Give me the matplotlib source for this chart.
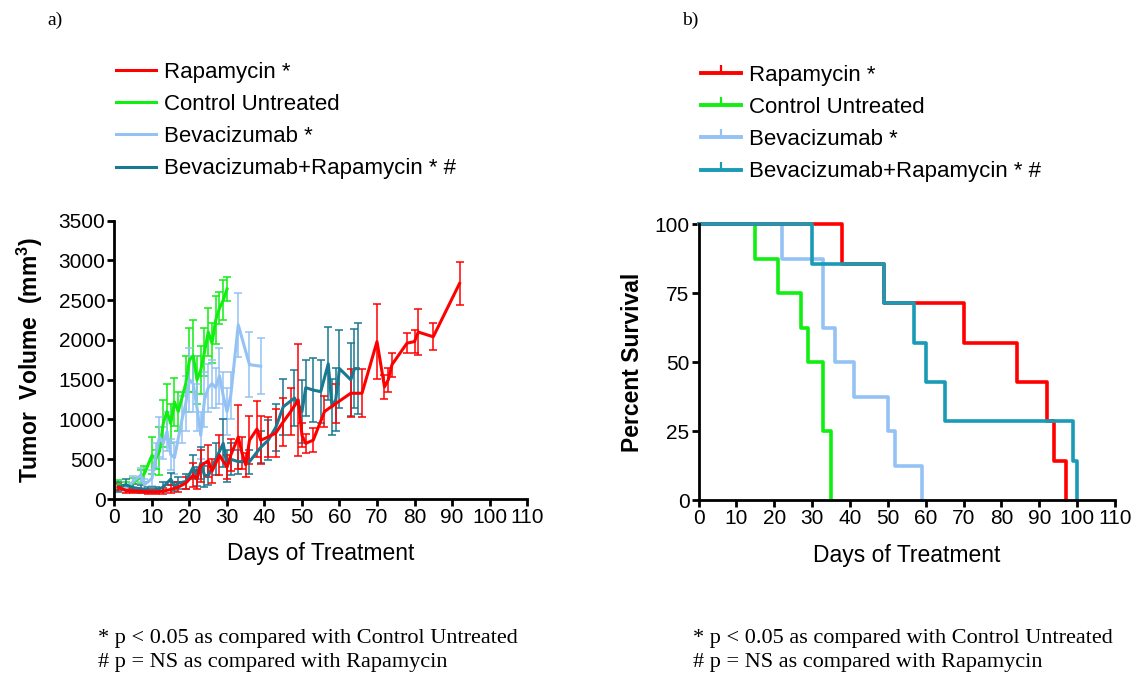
import matplotlib
matplotlib.use("Agg")
import matplotlib.pyplot as plt
from matplotlib.lines import Line2D

plt.rcParams.update({
    "font.family": "Liberation Sans",
    "mathtext.fontset": "custom",
    "mathtext.rm": "Liberation Sans",
    "mathtext.bf": "Liberation Sans:bold",
    "axes.spines.top": False,
    "axes.spines.right": False,
    "axes.linewidth": 2.0,
})

RED = "#ff0000"
GREEN = "#11ee11"
LBLUE = "#94c2f5"
TEAL_A = "#1a7890"
TEAL_B = "#1a9bb5"

# ---- (a) tumor volume: day, mean, error ----
days_rapa = [1, 3, 5, 7, 9, 11, 13, 15, 17, 19, 21, 22, 23, 25, 26, 28, 30, 31, 33, 34, 35, 36, 38,
             39, 41, 43, 45, 47, 49, 50, 51, 53, 56, 59, 63, 66, 70, 72, 73, 74, 78, 80, 81, 85, 92]
vol_rapa = [150, 110, 100, 100, 90, 90, 100, 120, 150, 200, 300, 250, 420, 480, 350, 550, 400, 550, 780,
            580, 430, 740, 880, 740, 780, 830, 970, 1100, 1245, 800, 700, 740, 1100, 1200, 1330, 1330,
            1980, 1410, 1500, 1690, 1960, 1980, 2100, 2040, 2710]
err_rapa = [40, 30, 30, 30, 30, 30, 40, 50, 60, 80, 150, 120, 200, 200, 150, 250, 150, 200, 400, 200,
            150, 300, 350, 300, 250, 300, 300, 300, 700, 150, 120, 150, 200, 250, 300, 300, 470, 150,
            150, 150, 130, 150, 290, 170, 270]

days_ctrl = [1, 3, 5, 7, 8, 10, 11, 12, 13, 14, 15, 16, 17, 19, 20, 21, 22, 23, 24, 25, 26, 27, 28, 29, 30]
vol_ctrl = [180, 160, 200, 280, 320, 550, 500, 600, 950, 1100, 950, 1220, 1100, 1450, 1750, 1800, 1500,
            1620, 1850, 2100, 1960, 2250, 2400, 2500, 2640]
err_ctrl = [60, 50, 60, 80, 100, 230, 120, 300, 300, 350, 250, 300, 250, 350, 400, 450, 300, 300, 300,
            300, 250, 300, 200, 250, 150]

days_bev = [1, 3, 5, 7, 8, 10, 11, 12, 13, 14, 15, 16, 18, 19, 20, 21, 22, 23, 24, 25, 26, 27, 28, 29,
            30, 31, 33, 36, 39]
vol_bev = [150, 130, 220, 300, 180, 260, 550, 780, 700, 850, 560, 520, 1000, 1200, 1500, 1450, 1150, 800,
           1250, 1400, 1450, 1400, 1550, 1300, 1100, 1300, 2190, 1690, 1670]
err_bev = [50, 40, 70, 90, 70, 100, 150, 250, 200, 250, 200, 200, 300, 350, 400, 350, 300, 300, 350,
           300, 300, 250, 350, 300, 300, 300, 400, 410, 350]

days_combo = [1, 3, 5, 7, 9, 11, 13, 15, 16, 17, 19, 21, 22, 23, 24, 25, 27, 29, 30, 31, 33, 36, 39, 41,
              43, 45, 48, 50, 51, 53, 55, 57, 58, 59, 60, 63, 64, 65]
vol_combo = [150, 180, 140, 130, 110, 110, 150, 250, 160, 200, 220, 400, 280, 450, 300, 290, 500, 700,
             420, 500, 470, 470, 650, 740, 900, 1160, 1270, 1100, 1400, 1370, 1350, 1700, 1160, 1250,
             1640, 1500, 1640, 1640]
err_combo = [60, 70, 50, 50, 40, 40, 60, 80, 60, 80, 100, 150, 120, 200, 150, 120, 200, 300, 200, 200,
             150, 150, 200, 250, 300, 350, 350, 400, 350, 400, 400, 460, 350, 400, 490, 460, 500, 570]

# ---- (b) survival steps ----
t_rapa = [0, 38, 49, 70, 84, 92, 94, 97]
s_rapa = [100, 85.7, 71.4, 57.1, 42.9, 28.6, 14.3, 0]
t_ctrl = [0, 15, 21, 27, 29, 33, 35]
s_ctrl = [100, 87.5, 75, 62.5, 50, 25, 0]
t_bev = [0, 22, 33, 36, 41, 50, 52, 59]
s_bev = [100, 87.5, 62.5, 50, 37.5, 25, 12.5, 0]
t_combo = [0, 30, 49, 57, 60, 65, 99, 100]
s_combo = [100, 85.7, 71.4, 57.1, 42.9, 28.6, 14.3, 0]

labels = ["Rapamycin *", "Control Untreated", "Bevacizumab *", "Bevacizumab+Rapamycin * #"]

fig = plt.figure(figsize=(11.38, 6.77), dpi=100)
ax1 = fig.add_axes([0.1006, 0.2629, 0.3625, 0.4111])
ax2 = fig.add_axes([0.6138, 0.2614, 0.3660, 0.4072])

# ── (a) ──
series = [(days_ctrl, vol_ctrl, err_ctrl, GREEN),
          (days_bev, vol_bev, err_bev, LBLUE),
          (days_combo, vol_combo, err_combo, TEAL_A),
          (days_rapa, vol_rapa, err_rapa, RED)]
for d, v, e, c in series:
    ax1.errorbar(d, v, yerr=e, color=c, lw=2.2, elinewidth=1.1, capsize=2.8,
                 capthick=1.1, ecolor=c)

ax1.set_xlim(0, 110)
ax1.set_ylim(0, 3500)
ax1.set_xticks(range(0, 111, 10))
ax1.set_yticks(range(0, 3501, 500))
ax1.set_xlabel("Days of Treatment", fontsize=16.5)
ax1.set_ylabel(r"Tumor  Volume  (mm$^\mathbf{3}$)", fontsize=16.5, fontweight="bold")
ax1.xaxis.set_label_coords(0.5, -0.155)
ax1.yaxis.set_label_coords(-0.169, 0.5)

# ── (b) ──
for t, s, c in [(t_ctrl, s_ctrl, GREEN), (t_bev, s_bev, LBLUE),
                (t_rapa, s_rapa, RED), (t_combo, s_combo, TEAL_B)]:
    ax2.step(t, s, where="post", color=c, lw=2.6, clip_on=False)

ax2.set_xlim(0, 110)
ax2.set_ylim(0, 100)
ax2.set_xticks(range(0, 111, 10))
ax2.set_yticks([0, 25, 50, 75, 100])
ax2.set_xlabel("Days of Treatment", fontsize=16.5)
ax2.set_ylabel("Percent Survival", fontsize=16.5, fontweight="bold")
ax2.xaxis.set_label_coords(0.5, -0.16)
ax2.yaxis.set_label_coords(-0.13, 0.5)

for ax in (ax1, ax2):
    ax.tick_params(direction="out", length=5, width=2, labelsize=15, pad=1.5)

# ── Legends ──
cols_a = [RED, GREEN, LBLUE, TEAL_A]
cols_b = [RED, GREEN, LBLUE, TEAL_B]
h_a = [Line2D([0], [0], color=c, lw=2.2) for c in cols_a]
h_b = [Line2D([0], [0], color=c, lw=2.8, marker=2, markersize=6, markeredgewidth=1.6)
       for c in cols_b]
leg_kw = dict(loc="upper left", frameon=False, fontsize=16, borderpad=0, borderaxespad=0,
              handlelength=1.8, handletextpad=0.35, labelspacing=0.5)
fig.legend(h_a, labels, bbox_transform=fig.transFigure,
           bbox_to_anchor=(116 / 1138, 1 - 62 / 677), **leg_kw)
fig.legend(h_b, labels, bbox_transform=fig.transFigure,
           bbox_to_anchor=(701 / 1138, 1 - 65 / 677), **leg_kw)

# ── Panel labels & footnotes ──
serif = "Liberation Serif"
fig.text(55 / 1138, 1 - 20 / 677, "a)", family=serif, fontsize=14, ha="center", va="center")
fig.text(690 / 1138, 1 - 20 / 677, "b)", family=serif, fontsize=14, ha="center", va="center")
notes = ["* p < 0.05 as compared with Control Untreated", "# p = NS as compared with Rapamycin"]
for x0 in (98, 693):
    for i, n in enumerate(notes):
        fig.text(x0 / 1138, 1 - (638 + 25 * i) / 677, n, family=serif, fontsize=16,
                 ha="left", va="center")

fig.savefig("out.png", dpi=100)
